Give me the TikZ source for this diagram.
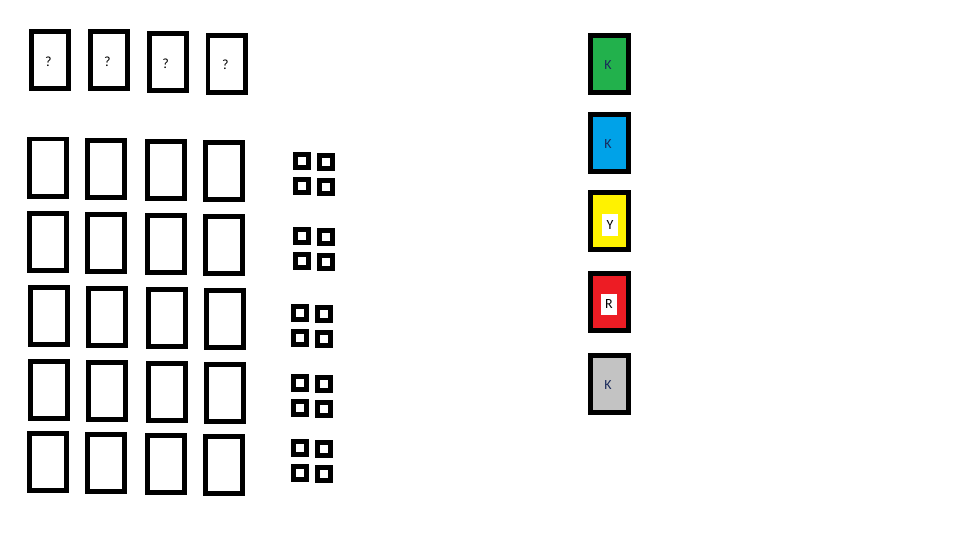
\documentclass[tikz,border=0pt]{standalone}
\usepackage{fontspec}
\setmainfont{Carlito}
\definecolor{pgreen}{HTML}{22B14C}
\definecolor{pblue}{HTML}{00A2E8}
\definecolor{pyellow}{HTML}{FFF200}
\definecolor{pred}{HTML}{ED1C24}
\definecolor{pgray}{HTML}{C3C3C3}
\definecolor{ktext}{HTML}{1A2A5A}
\tikzset{
  card/.style={draw=black, line width=4.7pt, minimum width=37.3pt, minimum height=57.3pt, inner sep=0pt, fill=white},
  colcard/.style={draw=black, line width=5pt, minimum width=38pt, minimum height=57pt, inner sep=0pt},
  sq/.style={draw=black, line width=5pt, minimum width=13pt, minimum height=13pt, inner sep=0pt, fill=white},
  lbl/.style={inner sep=0pt, font=\fontsize{14}{14}\selectfont, text=black},
  wbox/.style={fill=white, inner sep=0pt, minimum width=16pt, minimum height=21.5pt, font=\fontsize{14}{14}\selectfont}
}
\begin{document}
\begin{tikzpicture}[x=1pt,y=-1pt]
\useasboundingbox[fill=white] (0,0) rectangle (960,540);
% top row of cards with question marks
\node[card] (t1) at (50,60) {};
\node[card] (t2) at (109,60) {};
\node[card] (t3) at (168,62) {};
\node[card] (t4) at (226.7,64) {};
\node[lbl] (q1) at (48.3,61.7) {?};
\node[lbl] (q2) at (107.3,61.7) {?};
\node[lbl] (q3) at (165.7,63.3) {?};
\node[lbl] (q4) at (225.3,65) {?};
% grid of cards
\node[card] (g11) at (48,167.7) {};
\node[card] (g12) at (106,169) {};
\node[card] (g13) at (166,170) {};
\node[card] (g14) at (224,171) {};
\node[card] (g21) at (48,242) {};
\node[card] (g22) at (106,243) {};
\node[card] (g23) at (166,244) {};
\node[card] (g24) at (224,245) {};
\node[card] (g31) at (49,316) {};
\node[card] (g32) at (107,317) {};
\node[card] (g33) at (167,318) {};
\node[card] (g34) at (225,319) {};
\node[card] (g41) at (49,390) {};
\node[card] (g42) at (107,391) {};
\node[card] (g43) at (167,392) {};
\node[card] (g44) at (225,393) {};
\node[card] (g51) at (48,462) {};
\node[card] (g52) at (106,463) {};
\node[card] (g53) at (166,464) {};
\node[card] (g54) at (224,465) {};
% small square groups
\node[sq] (s1a) at (302,161) {};
\node[sq] (s1b) at (325.7,162) {};
\node[sq] (s1c) at (302,186.3) {};
\node[sq] (s1d) at (325.7,187.3) {};
\node[sq] (s2a) at (302,236) {};
\node[sq] (s2b) at (325.7,237) {};
\node[sq] (s2c) at (302,261) {};
\node[sq] (s2d) at (325.7,262) {};
\node[sq] (s3a) at (300,313.3) {};
\node[sq] (s3b) at (324,314.3) {};
\node[sq] (s3c) at (300,338.3) {};
\node[sq] (s3d) at (324,339.3) {};
\node[sq] (s4a) at (300,383.3) {};
\node[sq] (s4b) at (324,384.3) {};
\node[sq] (s4c) at (300,408.3) {};
\node[sq] (s4d) at (324,409.3) {};
\node[sq] (s5a) at (300,448.3) {};
\node[sq] (s5b) at (324,449.3) {};
\node[sq] (s5c) at (300,473.3) {};
\node[sq] (s5d) at (324,474.3) {};
% coloured column
\node[colcard, fill=pgreen] (cg) at (609.5,64) {};
\node[colcard, fill=pblue] (cb) at (609.5,143) {};
\node[colcard, fill=pyellow] (cy) at (609.5,221) {};
\node[colcard, fill=pred] (cr) at (609.5,302) {};
\node[colcard, fill=pgray] (ck) at (609.5,384) {};
\node[lbl, text=ktext] (kg) at (608,65) {K};
\node[lbl, text=ktext] (kb) at (608,144.5) {K};
\node[wbox] (ly) at (610,225) {Y};
\node[wbox] (lr) at (609,304.5) {R};
\node[lbl, text=ktext] (kk) at (608,385) {K};
\end{tikzpicture}
\end{document}
